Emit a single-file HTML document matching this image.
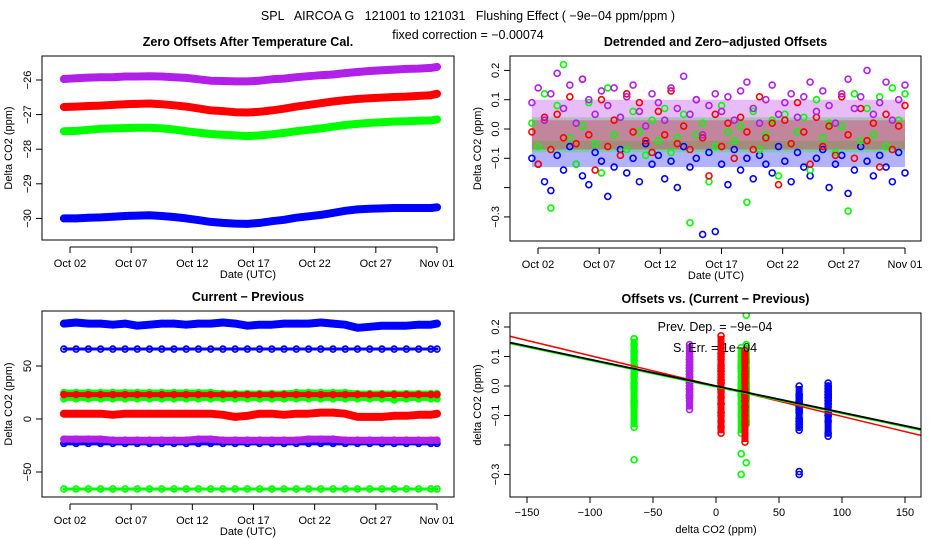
<!DOCTYPE html>
<html><head><meta charset="utf-8"><style>
body{margin:0;background:#fff}
svg{display:block;font-family:"Liberation Sans",Helvetica,sans-serif}
</style></head><body>
<svg id="c" width="936" height="540" viewBox="0 0 936 540">
<rect width="936" height="540" fill="#fff"/>
<text x="468" y="20" text-anchor="middle" font-size="12.5" xml:space="preserve">SPL   AIRCOA G   121001 to 121031   Flushing Effect ( −9e−04 ppm/ppm )</text>
<text x="468" y="39" text-anchor="middle" font-size="12.5">fixed correction = −0.00074</text>
</svg>
<script>
// ---------- data ----------
const days = [1.5,2.5,3.5,4.5,5.5,6.5,7.5,8.5,9.5,10.5,11.5,12.5,13.5,14.5,15.5,16.5,17.5,18.5,19.5,20.5,21.5,22.5,23.5,24.5,25.5,26.5,27.5,28.5,29.5,30.5,31.5,32];
const xTickLabels = ["Oct 02","Oct 07","Oct 12","Oct 17","Oct 22","Oct 27","Nov 01"];
const xTickDays = [2,7,12,17,22,27,32];
// panel 1: zero offsets after temperature cal (ppm)
const offPurple = [-25.97,-25.95,-25.93,-25.92,-25.92,-25.90,-25.90,-25.89,-25.90,-25.92,-25.94,-25.98,-26.02,-26.03,-26.04,-26.04,-26.02,-25.98,-25.96,-25.92,-25.89,-25.86,-25.84,-25.80,-25.77,-25.74,-25.72,-25.70,-25.68,-25.67,-25.65,-25.62];
const offRed = [-26.78,-26.77,-26.75,-26.74,-26.72,-26.70,-26.69,-26.68,-26.70,-26.73,-26.77,-26.82,-26.88,-26.90,-26.93,-26.94,-26.92,-26.88,-26.83,-26.77,-26.72,-26.67,-26.62,-26.58,-26.55,-26.53,-26.51,-26.49,-26.48,-26.46,-26.44,-26.40];
const offGreen = [-27.48,-27.47,-27.44,-27.41,-27.40,-27.39,-27.38,-27.38,-27.40,-27.43,-27.48,-27.52,-27.56,-27.58,-27.60,-27.62,-27.60,-27.57,-27.53,-27.48,-27.44,-27.40,-27.35,-27.30,-27.27,-27.24,-27.22,-27.20,-27.19,-27.18,-27.17,-27.14];
const offBlue = [-30.00,-30.00,-29.98,-29.97,-29.95,-29.93,-29.92,-29.91,-29.93,-29.96,-30.00,-30.05,-30.10,-30.13,-30.15,-30.16,-30.13,-30.08,-30.04,-29.98,-29.94,-29.90,-29.84,-29.78,-29.74,-29.72,-29.71,-29.70,-29.70,-29.70,-29.70,-29.68];
const p1YTicks = [-26,-27,-28,-29,-30];
// panel 2: detrended offsets (60 samples each)
const detBlue = [-0.10,-0.12,-0.18,-0.21,-0.09,-0.14,-0.06,-0.12,-0.16,-0.19,-0.08,-0.11,-0.23,-0.13,-0.07,-0.15,-0.10,-0.18,-0.05,-0.12,-0.09,-0.17,-0.11,-0.20,-0.06,-0.13,-0.10,-0.36,-0.08,-0.35,-0.12,-0.19,-0.07,-0.14,-0.10,-0.17,-0.09,-0.12,-0.15,-0.06,-0.11,-0.18,-0.08,-0.13,-0.16,-0.10,-0.07,-0.20,-0.12,-0.09,-0.22,-0.14,-0.06,-0.11,-0.16,-0.09,-0.13,-0.18,-0.08,-0.15];
const detGreen = [0.02,-0.06,0.12,-0.27,0.08,0.22,-0.03,-0.12,0.01,0.09,-0.05,-0.15,0.14,-0.02,0.04,-0.07,0.06,-0.01,-0.09,0.03,-0.04,0.07,-0.08,-0.03,0.05,-0.32,-0.02,0.02,-0.18,-0.06,0.08,-0.01,-0.04,0.01,-0.25,0.06,-0.07,-0.02,0.03,-0.16,0.05,-0.05,-0.01,0.04,-0.14,0.10,-0.03,0.02,-0.08,0.01,-0.28,0.12,-0.04,0.07,-0.02,0.11,-0.06,0.14,0.03,0.12];
const detRed = [-0.01,-0.12,0.04,-0.07,0.05,-0.03,0.11,-0.05,0.17,-0.02,-0.14,0.10,-0.06,0.03,-0.09,0.12,-0.01,0.09,-0.04,-0.08,0.06,-0.02,0.13,-0.05,0.01,-0.07,0.10,-0.03,-0.16,0.05,-0.06,0.02,-0.10,0.04,-0.01,-0.07,0.11,-0.03,0.02,-0.19,0.03,-0.05,0.09,-0.01,-0.12,0.04,-0.06,0.01,-0.09,0.11,-0.02,-0.10,0.07,-0.04,0.02,-0.13,0.05,-0.07,0.01,0.08];
const detPurple = [0.09,0.14,0.03,0.12,0.19,0.07,0.15,0.02,0.17,0.10,0.05,0.13,0.08,0.14,0.04,0.11,0.15,0.06,0.01,0.12,0.09,0.03,0.14,0.07,0.18,0.05,0.10,-0.02,0.08,0.12,0.06,0.11,0.03,0.13,0.16,0.07,0.02,0.10,0.15,0.05,0.09,0.12,0.04,0.11,0.16,0.06,0.13,0.08,0.02,0.12,0.17,0.07,0.11,0.20,0.05,0.09,0.16,0.03,0.10,0.15];
// dense core ranges [low, high] of each series in panel 2
const coreBlue = [-0.13,-0.04];
const coreGreen = [-0.08,0.04];
const coreRed = [-0.07,0.03];
const corePurple = [-0.04,0.10];
const detYTicks = [0.2,0.1,0.0,-0.1,-0.2,-0.3];
const detYLabels = ["0.2","0.1","0.0","−0.1","","−0.3"];
// panel 3: current - previous (ppm)
const cpBlueHi = [90,91,90,90,89,90,88,89,90,90,89,90,90,91,90,88,89,89,90,90,90,91,90,89,86,87,88,88,88,89,89,90];
const cpBlueMid = [66,66,66,66,66,66,66,66,66,66,66,66,66,66,66,66,66,66,66,66,66,66,66,66,66,66,66,66,66,66,66,66];
const cpGreenHi = [25,25,25,25,25,25,25,25,25,25,25,25,25,24,24,24,24,24,24,25,25,25,25,25,24,24,24,24,24,24,24,24];
const cpRedHi = [23,23,23,23,23,23,23,23,23,23,23,23,23,23,23,23,23,23,23,23,23,23,23,23,23,23,23,23,23,23,23,23];
const cpGreenLo = [19,19,19,19,19,19,19,19,19,19,19,19,19,19,19,19,19,19,19,19,19,19,19,19,19,19,19,18,19,19,19,19];
const cpRedLo = [5,5,5,5,4,5,5,5,5,5,5,5,5,4,2,3,5,5,4,5,5,6,6,5,2,2,2,3,3,4,4,5];
const cpPurple = [-19,-19,-19,-19,-20,-20,-20,-20,-20,-20,-20,-19,-19,-20,-20,-20,-20,-20,-20,-20,-19,-19,-19,-20,-20,-20,-20,-20,-20,-20,-20,-20];
const cpBlueLo = [-23,-23,-23,-23,-23,-23,-23,-23,-23,-23,-23,-23,-23,-23,-23,-23,-23,-23,-23,-23,-23,-23,-23,-23,-23,-23,-23,-23,-23,-23,-23,-23];
const cpGreenVLo = [-66,-66,-66,-66,-66,-66,-66,-66,-66,-66,-66,-66,-66,-66,-66,-66,-66,-66,-66,-66,-66,-66,-66,-66,-66,-66,-66,-66,-66,-66,-66,-66];
const cpYTicks = [50,0,-50];
// panel 4: strip centers (current-previous) per series, and y shift of each series vs panel 2
const stripBlue = [89,66];
const stripGreen = [-65,20,24];
const stripRed = [4,23];
const stripPurple = [-21];
const p4Shift = [0.06,0.02,0.0,-0.06];
const p4XTicks = [-150,-100,-50,0,50,100,150];
const fitSlope = -0.0009;
const fitSlopeRed = -0.00103;

// ---------- drawing ----------
const NS="http://www.w3.org/2000/svg", svg=document.getElementById('c');
function el(tag,attrs,parent){const e=document.createElementNS(NS,tag);for(const k in attrs)e.setAttribute(k,attrs[k]);(parent||svg).appendChild(e);return e;}
function txt(x,y,s,attrs,parent){const t=el('text',Object.assign({x:x,y:y,'font-size':11,'text-anchor':'middle'},attrs||{}),parent);t.textContent=s;return t;}
const BLUE='#0000ff',RED='#ff0000',GREEN='#00ff00',PURPLE='#b020e8';
const dayX=(L)=>(t)=>L+28+(t-2)*12.233;

function frame(L,R,T,B,name,title){
  const g=el('g',{});
  
  
  const t=txt((L+R)/2,T-10,title,{'font-weight':'bold','font-size':12.5},g);
  
  
  return g;
}
function box(g,L,R,T,B){const r=el('rect',{x:L,y:T,width:R-L,height:B-T,fill:'none',stroke:'#000','stroke-width':1},g);
  }
function yAxis(g,L,ys,labels,yf,title,T,B,tx){
  ys.forEach((v,i)=>{const y=yf(v);el('line',{x1:L-6,x2:L,y1:y,y2:y,stroke:'#000'},g);
    if(labels[i]!==''){const t=txt(L-11,y,labels[i],{transform:`rotate(-90 ${L-11} ${y})`},g);
      }});
  const t=txt(tx,(T+B)/2,title,{transform:`rotate(-90 ${tx} ${(T+B)/2})`,'font-size':11},g);
  
}
function dateAxis(g,L,B,xf,title){
  const ay=B+7;
  el('line',{x1:xf(xTickDays[0]),x2:xf(xTickDays[xTickDays.length-1]),y1:ay,y2:ay,stroke:'#000'},g);
  xTickDays.forEach((d,i)=>{const x=xf(d);el('line',{x1:x,x2:x,y1:ay,y2:ay+6,stroke:'#000'},g);
    const t=txt(x,ay+20,xTickLabels[i],{},g);});
  const t=txt(L+206,ay+31,title,{},g);
}
function band(g,xs,vals,xf,yf,color,w,name){
  const pts=vals.map((v,i)=>xf(xs[i]).toFixed(1)+','+yf(v).toFixed(1)).join(' ');
  const pl=el('polyline',{points:pts,fill:'none',stroke:color,'stroke-width':w,'stroke-linejoin':'round','stroke-linecap':'round'},g);
  
  vals.forEach((v,i)=>{const c=el('circle',{cx:xf(xs[i]),cy:yf(v),r:3,fill:'none',stroke:color,'stroke-width':1.6},g);
    });
}
function pts(g,xs,ys,color,name){
  ys.forEach((v,i)=>{const c=el('circle',{cx:xs(i),cy:v,r:3,fill:'none',stroke:color,'stroke-width':1.6},g);
    });
}

// Panel 1
(function(){
  const L=42,R=454,T=56,B=240, xf=dayX(L), yf=v=>80+(-26-v)*34.6;
  const g=frame(L,R,T,B,'zero-offsets-panel','Zero Offsets After Temperature Cal.');
  box(g,L,R,T,B);
  yAxis(g,L,p1YTicks,p1YTicks.map(v=>String(v).replace('-','−')),yf,'Delta CO2 (ppm)',T,B,12);
  dateAxis(g,L,B,xf,'Date (UTC)');
  band(g,days,offPurple,xf,yf,PURPLE,8,'purple-offset');
  band(g,days,offRed,xf,yf,RED,8,'red-offset');
  band(g,days,offGreen,xf,yf,GREEN,8,'green-offset');
  band(g,days,offBlue,xf,yf,BLUE,8,'blue-offset');
})();

// Panel 2
(function(){
  const L=510,R=921,T=56,B=241, xf=dayX(L), yf=v=>129-v*293;
  const g=frame(L,R,T,B,'detrended-offsets-panel','Detrended and Zero−adjusted Offsets');
  box(g,L,R,T,B);
  yAxis(g,L,detYTicks,detYLabels,yf,'Delta CO2 (ppm)',T,B,481);
  dateAxis(g,L,B,xf,'Date (UTC)');
  const x0=xf(1.5),x1=xf(32);
  [[coreBlue,BLUE],[coreGreen,GREEN],[coreRed,RED],[corePurple,PURPLE]].forEach(([c,col])=>{
    const r=el('rect',{x:x0,y:yf(c[1]),width:x1-x0,height:yf(c[0])-yf(c[1]),fill:col,opacity:0.3},g);
    });
  const tx=n=>i=>xf(1.5+i*(30.5/(n-1)));
  pts(g,tx(detBlue.length),detBlue.map(yf),BLUE,'blue-detrended-point');
  pts(g,tx(detGreen.length),detGreen.map(yf),GREEN,'green-detrended-point');
  pts(g,tx(detRed.length),detRed.map(yf),RED,'red-detrended-point');
  pts(g,tx(detPurple.length),detPurple.map(yf),PURPLE,'purple-detrended-point');
})();

// Panel 3
(function(){
  const L=42,R=454,T=311,B=497, xf=dayX(L), yf=v=>419-v*1.06;
  const g=frame(L,R,T,B,'current-previous-panel','Current − Previous');
  box(g,L,R,T,B);
  yAxis(g,L,cpYTicks,cpYTicks.map(v=>String(v).replace('-','−')),yf,'Delta CO2 (ppm)',T,B,12);
  dateAxis(g,L,B,xf,'Date (UTC)');
  band(g,days,cpBlueHi,xf,yf,BLUE,8,'blue-high-cp');
  band(g,days,cpBlueMid,xf,yf,BLUE,3,'blue-mid-cp');
  band(g,days,cpGreenHi,xf,yf,GREEN,6,'green-high-cp');
  band(g,days,cpGreenLo,xf,yf,GREEN,4,'green-low-cp');
  band(g,days,cpRedHi,xf,yf,RED,5,'red-high-cp');
  band(g,days,cpRedLo,xf,yf,RED,8,'red-low-cp');
  band(g,days,cpBlueLo,xf,yf,BLUE,4,'blue-low-cp');
  band(g,days,cpPurple,xf,yf,PURPLE,7,'purple-cp');
  band(g,days,cpGreenVLo,xf,yf,GREEN,3,'green-very-low-cp');
})();

// Panel 4
(function(){
  const L=510,R=921,T=313,B=497, xf=v=>716+v*1.26, yf=v=>386-v*295;
  const g=frame(L,R,T,B,'offsets-vs-cp-panel','Offsets vs. (Current − Previous)');
  yAxis(g,L,detYTicks,detYLabels,yf,'delta CO2 (ppm)',T,B,481);
  p4XTicks.forEach(v=>{const x=xf(v);el('line',{x1:x,x2:x,y1:B,y2:B+6,stroke:'#000'},g);
    const t=txt(x,B+19,String(v).replace('-','−'),{},g);});
  const xt=txt(716,B+36,'delta CO2 (ppm)',{},g);
  const clip=el('clipPath',{id:'p4clip'},g);el('rect',{x:L,y:T,width:R-L,height:B-T},clip);
  const pg=el('g',{'clip-path':'url(#p4clip)'},g);
  [[detBlue,stripBlue,BLUE,'blue',p4Shift[0]],[detGreen,stripGreen,GREEN,'green',p4Shift[1]],[detRed,stripRed,RED,'red',p4Shift[2]],[detPurple,stripPurple,PURPLE,'purple',p4Shift[3]]].forEach(([ys0,sx,col,n,sh])=>{
    const ys=ys0.map(v=>v+sh);
    sx.forEach((s,k)=>{const vals=ys.filter((v,i)=>i%sx.length===k);
      const core=vals.filter(v=>Math.abs(v)<0.22);
      const ln=el('line',{x1:xf(s),x2:xf(s),y1:yf(Math.max(...core)),y2:yf(Math.min(...core)),stroke:col,'stroke-width':7},pg);
      });
    pts(pg,i=>xf(sx[i%sx.length]),ys.map(yf),col,n+'-scatter-point');
  });
  const xa=-165,xb=165;
  const l1=el('line',{x1:xf(xa),y1:yf(fitSlopeRed*xa),x2:xf(xb),y2:yf(fitSlopeRed*xb),stroke:RED,'stroke-width':1.5},pg);
  
  const l2=el('line',{x1:xf(xa),y1:yf(fitSlope*xa)+1,x2:xf(xb),y2:yf(fitSlope*xb)+1,stroke:GREEN,'stroke-width':1.5},pg);
  
  const l3=el('line',{x1:xf(xa),y1:yf(fitSlope*xa),x2:xf(xb),y2:yf(fitSlope*xb),stroke:'#000','stroke-width':1.8},pg);
  
  box(g,L,R,T,B);
  const a=txt(715,331,'Prev. Dep. =  −9e−04',{'font-size':12.5,'xml:space':'preserve'},g);
  
  const b=txt(715,352,'S. Err. = 1e−04',{'font-size':12.5},g);
  
})();
</script>
</body></html>
